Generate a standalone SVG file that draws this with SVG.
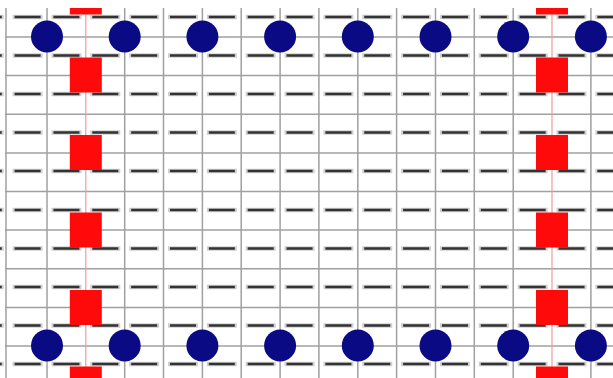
<svg xmlns="http://www.w3.org/2000/svg" width="613" height="378" viewBox="0 0 613 378">
<style>
.g{stroke:#a0a0a0;stroke-width:1.5;fill:none}
.r{stroke:#f39a9a;stroke-width:1.2;fill:none}
.dh{stroke:#cfcfcf;stroke-width:4.5;stroke-dasharray:30 8.85;stroke-dashoffset:26.25;fill:none}
.dd{stroke:#333333;stroke-width:2.5;stroke-dasharray:26 12.85;stroke-dashoffset:24.25;fill:none}
.sq{fill:#ff0a0a}
.c{fill:#0a0a85}
</style>
<defs>
<clipPath id="area"><rect x="5" y="8" width="608" height="370"/></clipPath>
<rect id="s" x="-16" y="-17.5" width="32" height="35"/>
</defs>
<rect width="613" height="378" fill="#ffffff"/>
<g clip-path="url(#area)">
<g id="grid">
<line class="g" x1="6" y1="8" x2="6" y2="378"/>
<line class="g" x1="47" y1="8" x2="47" y2="378"/>
<line class="g" x1="124.7" y1="8" x2="124.7" y2="378"/>
<line class="g" x1="163.5" y1="8" x2="163.5" y2="378"/>
<line class="g" x1="202.4" y1="8" x2="202.4" y2="378"/>
<line class="g" x1="241.2" y1="8" x2="241.2" y2="378"/>
<line class="g" x1="280.1" y1="8" x2="280.1" y2="378"/>
<line class="g" x1="318.9" y1="8" x2="318.9" y2="378"/>
<line class="g" x1="357.8" y1="8" x2="357.8" y2="378"/>
<line class="g" x1="396.6" y1="8" x2="396.6" y2="378"/>
<line class="g" x1="435.5" y1="8" x2="435.5" y2="378"/>
<line class="g" x1="474.3" y1="8" x2="474.3" y2="378"/>
<line class="g" x1="513.2" y1="8" x2="513.2" y2="378"/>
<line class="g" x1="590.9" y1="8" x2="590.9" y2="378"/>
<line class="g" x1="5" y1="37" x2="613" y2="37"/>
<line class="g" x1="5" y1="75.6" x2="613" y2="75.6"/>
<line class="g" x1="5" y1="114.2" x2="613" y2="114.2"/>
<line class="g" x1="5" y1="152.9" x2="613" y2="152.9"/>
<line class="g" x1="5" y1="191.5" x2="613" y2="191.5"/>
<line class="g" x1="5" y1="230.1" x2="613" y2="230.1"/>
<line class="g" x1="5" y1="268.8" x2="613" y2="268.8"/>
<line class="g" x1="5" y1="307.4" x2="613" y2="307.4"/>
<line class="g" x1="5" y1="346" x2="613" y2="346"/>
</g>
<g id="red-lines">
<line class="r" x1="85.8" y1="8" x2="85.8" y2="378"/>
<line class="r" x1="552" y1="8" x2="552" y2="378"/>
</g>
</g>
<g id="marks">
<line class="dh" x1="0" y1="17" x2="613" y2="17"/>
<line class="dh" x1="0" y1="55.5" x2="613" y2="55.5"/>
<line class="dh" x1="0" y1="94" x2="613" y2="94"/>
<line class="dh" x1="0" y1="132.5" x2="613" y2="132.5"/>
<line class="dh" x1="0" y1="171" x2="613" y2="171"/>
<line class="dh" x1="0" y1="210" x2="613" y2="210"/>
<line class="dh" x1="0" y1="248.5" x2="613" y2="248.5"/>
<line class="dh" x1="0" y1="287" x2="613" y2="287"/>
<line class="dh" x1="0" y1="325.5" x2="613" y2="325.5"/>
<line class="dh" x1="0" y1="364" x2="613" y2="364"/>
<line class="dd" x1="0" y1="17" x2="613" y2="17"/>
<line class="dd" x1="0" y1="55.5" x2="613" y2="55.5"/>
<line class="dd" x1="0" y1="94" x2="613" y2="94"/>
<line class="dd" x1="0" y1="132.5" x2="613" y2="132.5"/>
<line class="dd" x1="0" y1="171" x2="613" y2="171"/>
<line class="dd" x1="0" y1="210" x2="613" y2="210"/>
<line class="dd" x1="0" y1="248.5" x2="613" y2="248.5"/>
<line class="dd" x1="0" y1="287" x2="613" y2="287"/>
<line class="dd" x1="0" y1="325.5" x2="613" y2="325.5"/>
<line class="dd" x1="0" y1="364" x2="613" y2="364"/>
</g>
<g clip-path="url(#area)">
<g id="squares-left" class="sq">
<use href="#s" x="85.8" y="-3"/>
<use href="#s" x="85.8" y="75"/>
<use href="#s" x="85.8" y="152.5"/>
<use href="#s" x="85.8" y="230"/>
<use href="#s" x="85.8" y="307.5"/>
<use href="#s" x="85.8" y="384"/>
</g>
<g id="squares-right" class="sq">
<use href="#s" x="552" y="-3"/>
<use href="#s" x="552" y="75"/>
<use href="#s" x="552" y="152.5"/>
<use href="#s" x="552" y="230"/>
<use href="#s" x="552" y="307.5"/>
<use href="#s" x="552" y="384"/>
</g>
</g>
<g id="circles-top" class="c">
<circle cx="47" cy="36.5" r="16"/>
<circle cx="124.7" cy="36.5" r="16"/>
<circle cx="202.4" cy="36.5" r="16"/>
<circle cx="280.1" cy="36.5" r="16"/>
<circle cx="357.8" cy="36.5" r="16"/>
<circle cx="435.5" cy="36.5" r="16"/>
<circle cx="513.2" cy="36.5" r="16"/>
<circle cx="590.9" cy="36.5" r="16"/>
</g>
<g id="circles-bottom" class="c">
<circle cx="47" cy="345.5" r="16"/>
<circle cx="124.7" cy="345.5" r="16"/>
<circle cx="202.4" cy="345.5" r="16"/>
<circle cx="280.1" cy="345.5" r="16"/>
<circle cx="357.8" cy="345.5" r="16"/>
<circle cx="435.5" cy="345.5" r="16"/>
<circle cx="513.2" cy="345.5" r="16"/>
<circle cx="590.9" cy="345.5" r="16"/>
</g>
</svg>
